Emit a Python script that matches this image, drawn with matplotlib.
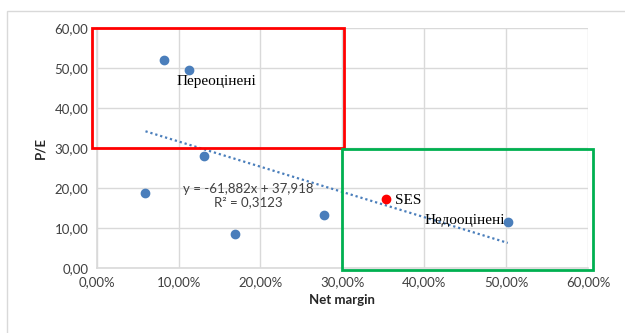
import numpy as np
import matplotlib
matplotlib.use("Agg")
import matplotlib.pyplot as plt
from matplotlib.patches import Rectangle
from matplotlib.ticker import FuncFormatter

# Companies (net margin as fraction, P/E)
net_margin = [0.0828, 0.113, 0.1307, 0.0596, 0.1695, 0.277, 0.502]
pe_ratio = [51.9, 49.6, 28.1, 18.7, 8.5, 13.4, 11.5]

# the analysed company
ses_margin = [0.353]
ses_pe = [17.2]

eq_text = "y = -61,882x + 37,918\nR² = 0,3123"
over_label = "Переоцінені"
under_label = "Недооцінені"

sans = "Lato"
serif = "Liberation Serif"
plt.rcParams['font.family'] = [sans, 'DejaVu Sans']

fig = plt.figure(figsize=(6.25, 3.33), dpi=100)
# outer chart border like Excel
fig.patches.append(Rectangle((6.5 / 625, -0.01), 1.0, 1 - 11 / 333 + 0.01,
                             transform=fig.transFigure, fill=False,
                             ec="#d9d9d9", lw=1))
ax = fig.add_axes([0.1547, 0.1943, 0.7861, 0.7216])

ax.set_xlim(0, 0.6)
ax.set_ylim(0, 60)
ax.set_xticks(np.arange(0, 0.61, 0.1))
ax.set_yticks(np.arange(0, 61, 10))
ax.xaxis.set_major_formatter(FuncFormatter(lambda v, p: f"{v*100:.2f}%".replace(".", ",")))
ax.yaxis.set_major_formatter(FuncFormatter(lambda v, p: f"{v:.2f}".replace(".", ",")))
ax.grid(True, color="#d9d9d9", lw=1)
ax.set_axisbelow(True)
for s in ["top", "right"]:
    ax.spines[s].set_visible(False)
for s in ["left", "bottom"]:
    ax.spines[s].set_color("#d9d9d9")
    ax.spines[s].set_linewidth(1.2)
ax.tick_params(length=0, labelsize=9.5, colors="#404040", pad=6)

# linear trend over the peer group
k, b = np.polyfit(net_margin, pe_ratio, 1)
xt = np.array([min(net_margin), max(net_margin)])
ax.plot(xt, k * xt + b, color="#4a7ebb", lw=1.6, ls=(0, (1, 1.3)), zorder=2)

ax.scatter(net_margin, pe_ratio, s=36, color="#4a7ebb", zorder=3)
ax.scatter(ses_margin, ses_pe, s=36, color="#ff0000", zorder=3)

# valuation zones
ax.add_patch(Rectangle((-0.006, 30.1), 0.308, 29.9, fill=False, ec="#ff0000",
                       lw=2, clip_on=False, zorder=4))
ax.add_patch(Rectangle((0.300, -0.4), 0.3055, 30.1, fill=False, ec="#00b050",
                       lw=2, clip_on=False, zorder=4))

ax.text(0.146, 46.6, over_label, family=serif, fontsize=11, ha="center", va="center")
ax.text(0.3805, 16.9, "SES", family=serif, fontsize=11, ha="center", va="center")
ax.text(0.450, 11.9, under_label, family=serif, fontsize=11, ha="center", va="center")
ax.text(0.1855, 18.2, eq_text, fontsize=9.5, ha="center", va="center",
        color="#404040", linespacing=1.15)

ax.set_xlabel("Net margin", fontsize=9.5, fontweight="bold", color="#262626", labelpad=4)
ax.set_ylabel("P/E", fontsize=9.5, fontweight="bold", color="#262626", labelpad=6)

fig.savefig("out.png", dpi=100)
